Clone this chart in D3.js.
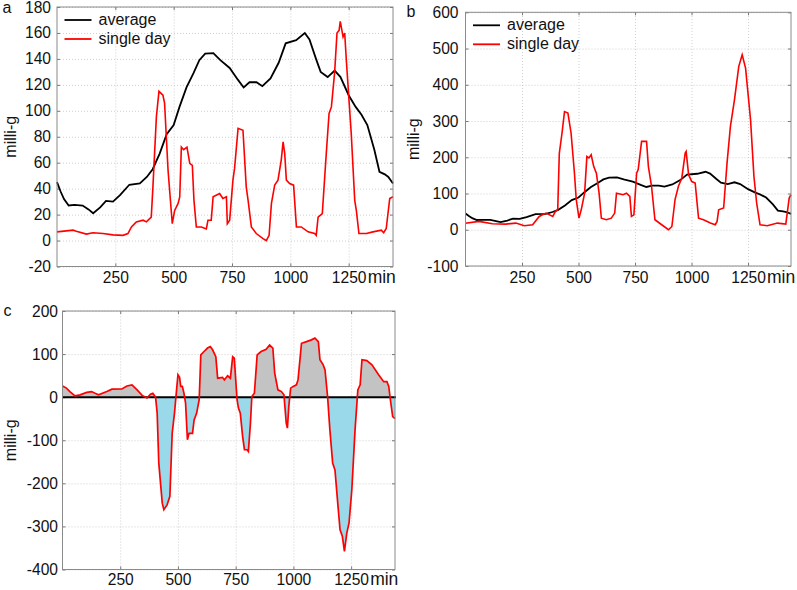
<!DOCTYPE html>
<html>
<head>
<meta charset="utf-8">
<script src="https://cdn.jsdelivr.net/npm/d3@7"></script>
<style>
    body { margin: 0; background: #fff; }
    text { font-family: "Liberation Sans", Arial, sans-serif; fill: #111; }
</style>
</head>
<body>
<div id="viz"></div>
<script>

// x ticks shared by all three panels
var xTicks = [250, 500, 750, 1000, 1250];
var yTicksA = [-20, 0, 20, 40, 60, 80, 100, 120, 140, 160, 180];
var yTicksB = [-100, 0, 100, 200, 300, 400, 500, 600];
var yTicksC = [-400, -300, -200, -100, 0, 100, 200];

// average curve (same in a and b)
var avgMin = [0,15,30,50,75,110,135,155,185,210,240,270,310,355,385,410,440,470,500,525,555,585,610,635,670,700,740,775,800,825,855,880,915,950,980,1025,1062,1082,1110,1130,1160,1190,1215,1250,1280,1305,1330,1360,1382,1405,1420,1440];
var avgVal = [45,38,32,27,27.5,27,24,21,25.5,30.5,30,35,43,44,49,55,67,82,89,103,118,129,139,144,144.5,139,133,124,118,122,122,119,125,137,152,154.5,160,155,140,130,126,131,126,112,103,97,89,70,53,51,49,44];

// single day, panel a
var dayAMin = [0,69,83,126,154,197,240,283,304,319,340,369,383,404,411,426,437,454,461,476,494,504,519,526,533,543,557,569,580,587,597,619,640,647,661,669,697,711,726,730,740,754,761,776,797,811,819,833,854,883,897,909,919,933,947,961,969,976,983,997,1014,1026,1047,1076,1104,1111,1119,1137,1154,1166,1176,1190,1200,1209,1214,1226,1233,1240,1261,1276,1283,1294,1326,1354,1390,1400,1411,1426,1440];
var dayAVal = [6.7,8,7.2,5,6,5.4,4.4,4,5.4,10.5,14.4,15.7,14.4,18,41,95.5,115,112,106,54,13,23,28.6,33.7,72,70,72,59.5,58,31,10.5,10.5,9,15.7,15.7,33.7,36.3,32.4,33.7,13,15.7,46.6,55.6,86.5,85,41.4,31,10.5,5.4,1.5,0,4,28.6,42.7,46.6,62,76,67,46.6,44,42.7,10.5,10.5,6.7,5.4,4,18,20.8,67,98,103,130,160,162,169,157,160,139,82.6,31,23,5.4,5.4,6.7,8,6,9.3,32.4,33.7];

// single day, panel b
var dayBMin = [0,59,119,178,223,260,297,326,356,386,398,408,415,427,438,453,467,482,490,502,512,527,537,546,556,567,579,591,601,623,645,660,668,697,712,727,734,745,757,764,779,801,809,823,838,868,898,913,927,942,957,972,976,987,1001,1016,1031,1053,1083,1105,1113,1120,1142,1157,1172,1190,1209,1224,1239,1261,1276,1288,1303,1335,1380,1417,1432,1440];
var dayBVal = [18,23,16.6,15.6,18.4,11,13.8,36.8,46,36.8,50.6,55,211,267,326,322,267,156,83,32,55,101,202,198,207,175,156,101,32,27.6,32,46,101,96.6,101,92,36.8,41,156,166,244,244,175,120,27.6,13.8,0,9,83,120,143,212,216,152,133,129,32,27.6,18.4,13.8,23,55,60,184,285,359,451,483,446,304,147,74,13.8,11,18.4,15.6,87.4,96.6];

// difference, panel c
var diffMin = [0,17,32,54,76,105,126,141,156,192,214,257,279,301,323,345,366,381,391,403,410,417,432,439,453,465,475,485,494,500,507,512,519,526,533,541,548,563,570,581,592,599,613,628,640,650,664,672,693,701,715,727,737,744,756,762,770,780,788,799,805,814,820,831,843,860,882,897,911,919,933,948,959,969,974,980,988,999,1013,1020,1035,1057,1078,1093,1108,1115,1129,1137,1148,1158,1170,1180,1192,1202,1212,1221,1231,1241,1253,1267,1279,1289,1297,1318,1340,1369,1391,1405,1413,1420,1430,1440];
var diffVal = [26,21,13,3,5.4,11,13,9,5.4,13,18.6,19,26,28.6,17,4,-2,7,9,0,-37,-153,-246,-261,-250,-230,-84,-37,17,52,46,25,25,9,-14,-99,-84,-84,-53,-37,-6,98,106,114,117.6,110,94,44,46,40,49.5,44,94,90.5,-6,-25.5,-37,-91,-122,-122,-126,-60,1.5,9,98,106,111,121,114,56,17,13,5.4,-60,-72,-22,21,25,28.6,40,125,129,133,137,129,87,75,63,1.5,-76,-153,-169,-246,-308,-323,-358,-316,-292,-215,-76,17,28.6,87,85,75,52,36,36,25,-6,-45,-50];

function zip(a, b) {
    return a.map(function(d, i) { return [d, b[i]]; });
}

var svg = d3.select("#viz").append("svg")
    .attr("width", 797)
    .attr("height", 590);

var FS = 15.6;

function drawPanel(p) {
    var x = d3.scaleLinear().domain([0, 1440]).range([p.left, p.right]);
    var y = d3.scaleLinear().domain(p.yDomain).range([p.bottom, p.top]);
    var w = p.right - p.left, h = p.bottom - p.top;
    var g = svg.append("g");

    // dotted grid via axes
    var gy = g.append("g").attr("transform", "translate(" + p.left + ",0)")
        .call(d3.axisLeft(y).tickValues(p.yTicks).tickSize(-w).tickPadding(p.yPad)
            .tickFormat(function(d) { return String(d); }));
    var gx = g.append("g").attr("transform", "translate(0," + p.bottom + ")")
        .call(d3.axisBottom(x).tickValues(xTicks).tickSize(-h).tickPadding(p.xPad)
            .tickFormat(function(d) { return String(d); }));
    [gy, gx].forEach(function(a) {
        a.select(".domain").remove();
        a.selectAll(".tick line").attr("stroke", "#cfcfcf").attr("stroke-dasharray", "1,2");
        a.selectAll(".tick text").style("font-size", FS + "px").attr("fill", "#111");
    });

    // small inner ticks on every side
    var inner = [
        [d3.axisLeft(y).tickValues(p.yTicks), "translate(" + p.left + ",0)"],
        [d3.axisRight(y).tickValues(p.yTicks), "translate(" + p.right + ",0)"],
        [d3.axisBottom(x).tickValues(xTicks), "translate(0," + p.bottom + ")"],
        [d3.axisTop(x).tickValues(xTicks), "translate(0," + p.top + ")"]
    ];
    inner.forEach(function(a) {
        var s = g.append("g").attr("transform", a[1])
            .call(a[0].tickSize(-3).tickFormat(""));
        s.select(".domain").remove();
        s.selectAll(".tick line").attr("stroke", "#777");
    });

    var line = d3.line().x(function(d) { return x(d[0]); }).y(function(d) { return y(d[1]); });

    if (p.diff) {
        var id = "c" + Math.round(p.top);
        var defs = svg.append("defs");
        defs.append("clipPath").attr("id", id + "up").append("rect")
            .attr("x", p.left).attr("y", p.top).attr("width", w).attr("height", y(0) - p.top);
        defs.append("clipPath").attr("id", id + "dn").append("rect")
            .attr("x", p.left).attr("y", y(0)).attr("width", w).attr("height", p.bottom - y(0));
        var area = d3.area().x(function(d) { return x(d[0]); })
            .y0(y(0)).y1(function(d) { return y(d[1]); });
        var pts = p.diff.concat([[1448, p.diff[p.diff.length - 1][1]]]);
        g.append("path").datum(pts).attr("d", area)
            .attr("fill", "#c3c3c3").attr("clip-path", "url(#" + id + "up)");
        g.append("path").datum(pts).attr("d", area)
            .attr("fill", "#99d9ea").attr("clip-path", "url(#" + id + "dn)");
        g.append("line").attr("x1", p.left).attr("x2", p.right + 1)
            .attr("y1", y(0)).attr("y2", y(0))
            .attr("stroke", "#000").attr("stroke-width", 2);
        g.append("path").datum(p.diff).attr("d", line)
            .attr("fill", "none").attr("stroke", "#ff0000").attr("stroke-width", 1.7);
    } else {
        g.append("path").datum(p.avg).attr("d", line)
            .attr("fill", "none").attr("stroke", "#000").attr("stroke-width", 1.8);
        g.append("path").datum(p.day).attr("d", line)
            .attr("fill", "none").attr("stroke", "#ff0000").attr("stroke-width", 1.6);

        // legend
        var lx = p.left + 7.5, ly = p.top + 13;
        [["average", "#000"], ["single day", "#ff0000"]].forEach(function(l, i) {
            var yy = ly + i * 19;
            g.append("line").attr("x1", lx).attr("x2", lx + 27)
                .attr("y1", yy).attr("y2", yy)
                .attr("stroke", l[1]).attr("stroke-width", 1.8);
            g.append("text").attr("x", lx + 34).attr("y", yy + 5)
                .style("font-size", "16px").text(l[0]);
        });
    }

    // frame
    g.append("rect").attr("x", p.left).attr("y", p.top)
        .attr("width", w).attr("height", h)
        .attr("fill", "none").attr("stroke", "#8a8a8a");

    // labels
    g.append("text").attr("x", x(1250) + 19).attr("y", p.bottom + p.xPad + 11.2)
        .style("font-size", "17.5px").text("min");
    g.append("text")
        .attr("transform", "translate(" + p.ylabX + "," + ((p.top + p.bottom) / 2) + ") rotate(-90)")
        .attr("text-anchor", "middle").attr("dy", "0.35em")
        .style("font-size", "16px").text("milli-g");
    g.append("text").attr("x", p.letterX).attr("y", p.letterY)
        .style("font-size", "16px").text(p.letter);
}

drawPanel({
    left: 57, right: 393, top: 7, bottom: 266.5,
    yDomain: [-20, 180], yTicks: yTicksA, yPad: 6, xPad: 5.5,
    avg: zip(avgMin, avgVal), day: zip(dayAMin, dayAVal),
    ylabX: 10, letter: "a", letterX: 2.5, letterY: 13
});

drawPanel({
    left: 465.5, right: 791, top: 12.3, bottom: 266,
    yDomain: [-100, 600], yTicks: yTicksB, yPad: 7, xPad: 5.5,
    avg: zip(avgMin, avgVal), day: zip(dayBMin, dayBVal),
    ylabX: 413, letter: "b", letterX: 406.5, letterY: 16.5
});

drawPanel({
    left: 62.5, right: 395, top: 311, bottom: 569.5,
    yDomain: [-400, 200], yTicks: yTicksC, yPad: 4.5, xPad: 4.5,
    diff: zip(diffMin, diffVal),
    ylabX: 10, letter: "c", letterX: 3.5, letterY: 316
});

</script>
</body>
</html>
